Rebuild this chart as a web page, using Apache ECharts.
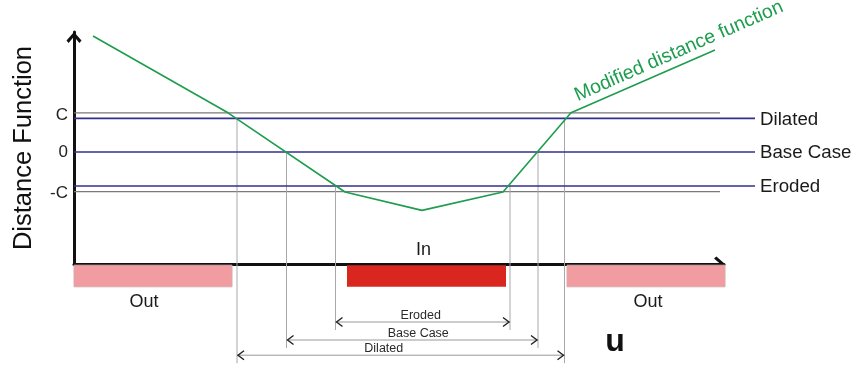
<!DOCTYPE html>
<html><head><meta charset="utf-8">
<script src="https://cdn.jsdelivr.net/npm/echarts@6/dist/echarts.min.js"></script>
<style>html,body{margin:0;padding:0;background:#fff}#c{width:860px;height:366px}</style>
</head><body><div id="c"></div>
<script>
// ---- data ----
// modified distance function vertices
const curveU = [3.8, 30.8, 54.2, 69.6, 85.8, 99.4, 128.2];
const curveD = [2.9, 0.98, -1.0, -1.46, -1.0, 0.98, 2.55];
// +C / -C reference levels
const thresholdLevels = [0.98, -0.99];
// iso-levels per case
const caseNames = ['Dilated', 'Base Case', 'Eroded'];
const caseLevels = [0.84, 0, -0.85];
// where the curve crosses each iso-level
const crossLeft = [32.6, 42.5, 52.3];
const crossRight = [98.1, 92.8, 87.2];
// level of the width dimension arrow for each case
const dimLevel = [-5.08, -4.7, -4.25];
// in / out regions along u
const regionNames = ['Out', 'In', 'Out'];
const regionStart = [0, 54.6, 98.6];
const regionEnd = [31.6, 86.4, 130.2];
const regionTop = -2.83, regionBottom = -3.37;
// y-axis tick labels
const yTickValues = [0.92, 0, -1.03];
const yTickLabels = ['C', '0', '-C'];
// annotations
const noteTexts = ['Modified distance function', 'u'];
const noteU = [121, 108.2];
const noteD = [2.52, -4.75];

// ---- styles ----
const FONT = '"Liberation Sans", Arial, sans-serif';
const chevron = 'path://M7.5,0 L15,8.6 L12.9,11 L7.5,4.6 L2.1,11 L0,8.6 Z';
const dimLabelShift = {'Dilated': -17, 'Base Case': 6, 'Eroded': -2};

const chart = echarts.init(document.getElementById('c'), null, {renderer: 'canvas'});
const option = {
  animation: false,
  backgroundColor: '#fff',
  grid: {left: 74, right: 136, top: 32, bottom: 102},
  xAxis: {
    type: 'value', min: 0, max: 130,
    axisLine: {show: true, onZero: false, lineStyle: {color: '#111', width: 3},
      symbol: ['none', chevron], symbolSize: [15, 11], symbolOffset: [0, -4.5]},
    axisTick: {show: false}, axisLabel: {show: false}, splitLine: {show: false}
  },
  yAxis: {
    type: 'value', min: -2.8, max: 3.0,
    name: 'Distance Function', nameLocation: 'middle', nameGap: 37,
    nameTextStyle: {fontSize: 25.5, color: '#111', fontFamily: FONT},
    axisLine: {show: true, onZero: false, lineStyle: {color: '#111', width: 3},
      symbol: ['none', chevron], symbolSize: [15, 11], symbolOffset: [0, -5.5]},
    axisTick: {show: false}, splitLine: {show: false},
    axisLabel: {
      customValues: yTickValues, margin: 6, fontSize: 17, color: '#222', fontFamily: FONT,
      formatter: function (v) { const i = yTickValues.indexOf(v); return i >= 0 ? yTickLabels[i] : ''; }
    }
  },
  series: [
    { // +C / -C lines
      type: 'custom', z: 2, clip: false,
      data: thresholdLevels.map(v => [0, 129.2, v]),
      renderItem: function (params, api) {
        const p1 = api.coord([api.value(0), api.value(2)]);
        const p2 = api.coord([api.value(1), api.value(2)]);
        return {type: 'line', shape: {x1: p1[0], y1: p1[1], x2: p2[0], y2: p2[1]},
          style: {stroke: '#7a7a7a', lineWidth: 1.2}};
      }
    },
    { // case iso-level lines with labels
      type: 'custom', z: 3, clip: false,
      data: caseLevels.map(v => [0, 136.2, v]),
      renderItem: function (params, api) {
        const p1 = api.coord([api.value(0), api.value(2)]);
        const p2 = api.coord([api.value(1), api.value(2)]);
        return {type: 'group', children: [
          {type: 'line', shape: {x1: p1[0], y1: p1[1], x2: p2[0], y2: p2[1]},
            style: {stroke: '#332f8c', lineWidth: 1.6}},
          {type: 'text', style: {text: caseNames[params.dataIndex], x: p2[0] + 5, y: p2[1] + 1,
            verticalAlign: 'middle', align: 'left', font: '18.7px ' + FONT, fill: '#1a1a1a'}}
        ]};
      }
    },
    { // vertical projection lines
      type: 'custom', z: 2, clip: false,
      data: caseLevels.flatMap((v, i) => [[crossLeft[i], v, dimLevel[i]], [crossRight[i], v, dimLevel[i]]]),
      renderItem: function (params, api) {
        const p1 = api.coord([api.value(0), api.value(1)]);
        const p2 = api.coord([api.value(0), api.value(2)]);
        return {type: 'line', shape: {x1: p1[0], y1: p1[1], x2: p2[0], y2: p2[1] + 8},
          style: {stroke: '#a8a8a8', lineWidth: 1}};
      }
    },
    { // dimension arrows
      type: 'custom', z: 3, clip: false,
      data: caseNames.map((n, i) => [crossLeft[i], crossRight[i], dimLevel[i]]),
      renderItem: function (params, api) {
        const y = api.value(2);
        const p1 = api.coord([api.value(0), y]);
        const p2 = api.coord([api.value(1), y]);
        const aw = 7, ah = 4.5;
        const name = caseNames[params.dataIndex];
        return {type: 'group', children: [
          {type: 'line', shape: {x1: p1[0], y1: p1[1], x2: p2[0], y2: p2[1]},
            style: {stroke: '#999', lineWidth: 1}},
          {type: 'polyline', shape: {points: [[p1[0] + aw, p1[1] - ah], [p1[0] + 1, p1[1]], [p1[0] + aw, p1[1] + ah]]},
            style: {stroke: '#222', lineWidth: 1.4, fill: null}},
          {type: 'polyline', shape: {points: [[p2[0] - aw, p2[1] - ah], [p2[0] - 1, p2[1]], [p2[0] - aw, p2[1] + ah]]},
            style: {stroke: '#222', lineWidth: 1.4, fill: null}},
          {type: 'text', style: {text: name, x: (p1[0] + p2[0]) / 2 + (dimLabelShift[name] || 0), y: p1[1] - 6.5,
            align: 'center', verticalAlign: 'middle', font: '12.5px ' + FONT, fill: '#2a2a2a'}}
        ]};
      }
    },
    { // modified distance function
      type: 'line', z: 5, clip: false,
      data: curveU.map((u, i) => [u, curveD[i]]),
      symbol: 'none', lineStyle: {color: '#1d9d4d', width: 1.6}
    },
    { // in/out regions
      type: 'custom', z: 6, clip: false,
      data: regionNames.map((n, i) => [regionStart[i], regionEnd[i]]),
      renderItem: function (params, api) {
        const name = regionNames[params.dataIndex];
        const p1 = api.coord([api.value(0), regionTop]);
        const p2 = api.coord([api.value(1), regionBottom]);
        const isIn = name === 'In';
        const cx = (p1[0] + p2[0]) / 2 + (isIn ? -3 : (params.dataIndex === 0 ? -9 : 2));
        return {type: 'group', children: [
          {type: 'rect', shape: {x: p1[0], y: p1[1], width: p2[0] - p1[0], height: p2[1] - p1[1]},
            style: {fill: isIn ? '#d9261f' : '#f09ca1', stroke: isIn ? null : '#d8aaaa', lineWidth: 1}},
          {type: 'text', style: {text: name, x: cx, y: isIn ? p1[1] - 15 : p2[1] + 15,
            align: 'center', verticalAlign: 'middle', font: '18px ' + FONT, fill: '#1a1a1a'}}
        ]};
      }
    },
    { // annotations
      type: 'custom', z: 7, clip: false,
      data: noteTexts.map((t, i) => [noteU[i], noteD[i]]),
      renderItem: function (params, api) {
        const p = api.coord([api.value(0), api.value(1)]);
        const i = params.dataIndex;
        if (i === 0) {
          return {type: 'text', x: p[0], y: p[1], rotation: 23.6 * Math.PI / 180,
            style: {text: noteTexts[i], x: 0, y: 0, align: 'center', verticalAlign: 'middle',
              font: '19.5px ' + FONT, fill: '#1d9d4d'}};
        }
        return {type: 'text', x: p[0], y: p[1],
          style: {text: noteTexts[i], x: 0, y: 0, align: 'center', verticalAlign: 'middle',
            font: 'bold 32px ' + FONT, fill: '#111'}};
      }
    }
  ]
};
chart.setOption(option);
</script>
</body></html>
